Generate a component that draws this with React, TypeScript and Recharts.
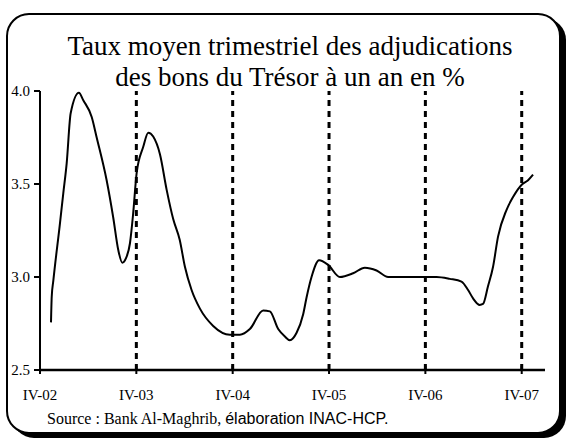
import React from "react";
import { LineChart, Line, XAxis, YAxis, ReferenceLine } from "recharts";

// months since IV-02 quarter (0 = IV-02, 12 = IV-03, ...)
const months = [
  1.37, 1.46, 1.66, 2.49, 2.9, 3.32, 3.82, 4.85, 5.39, 6.44, 7.06, 8.3, 9.12, 9.75,
  10.25, 10.7, 11.2, 11.6, 12.04, 12.86, 13.48, 14.1, 14.94, 15.77, 16.6, 17.4, 18.05,
  18.88, 19.92, 21.57, 23.65, 24.9, 26.14, 27.8, 28.63, 29.67, 30.5, 31.12, 31.96,
  32.78, 33.2, 33.82, 34.77, 35.89, 37.35, 39.0, 40.46, 41.92, 43.36, 46.0, 49.4,
  51.04, 52.5, 53.32, 53.94, 54.77, 55.18, 55.8, 56.43, 57.05, 58.1, 58.92, 59.97,
  60.79, 61.41,
];
const rates = [
  2.756, 2.894, 2.98, 3.29, 3.45, 3.61, 3.88, 3.99, 3.95, 3.86, 3.75, 3.52, 3.32, 3.145,
  3.077, 3.1, 3.18, 3.34, 3.56, 3.7, 3.776, 3.755, 3.66, 3.47, 3.31, 3.2, 3.055,
  2.93, 2.83, 2.737, 2.69, 2.69, 2.72, 2.82, 2.815, 2.72, 2.68, 2.66, 2.7,
  2.8, 2.89, 3.0, 3.09, 3.065, 3.0, 3.02, 3.05, 3.035, 3.0, 3.0, 3.0,
  2.99, 2.975, 2.93, 2.885, 2.85, 2.855, 2.95, 3.055, 3.217, 3.36, 3.43, 3.495,
  3.52, 3.55,
];

const xTicks = [0, 12, 24, 36, 48, 60];
const xTickLabels = ["IV-02", "IV-03", "IV-04", "IV-05", "IV-06", "IV-07"];
const yTicks = [2.5, 3.0, 3.5, 4.0];
const dashedAt = [12, 24, 36, 48, 60];

const titleLines = [
  "Taux moyen trimestriel des adjudications",
  "des bons du Trésor à un an en %",
];
const sourcePart1 = "Source : Bank Al-Maghrib, ";
const sourcePart2 = "élaboration INAC-HCP.";

const data = months.map((m, i) => ({ m, v: rates[i] }));

const serif = "Liberation Serif, DejaVu Serif, serif";
const sans = "Liberation Sans, DejaVu Sans, sans-serif";

const XTick = (props: any) => {
  const { x, y, payload } = props;
  const idx = xTicks.indexOf(payload.value);
  return (
    <g>
      <line x1={x} x2={x} y1={y - 4} y2={y + 4} stroke="#000" strokeWidth={2} />
      <text x={x} y={y + 30} textAnchor="middle" style={{ fontFamily: serif, fontSize: 15 }} fill="#000">
        {idx >= 0 ? xTickLabels[idx] : ""}
      </text>
    </g>
  );
};

const YTick = (props: any) => {
  const { x, y, payload } = props;
  return (
    <text x={x} y={y + 5} textAnchor="end" style={{ fontFamily: serif, fontSize: 15 }} fill="#000">
      {Number(payload.value).toFixed(1)}
    </text>
  );
};

export default function App() {
  return (
    <div style={{ position: "absolute", left: 0, top: 0, width: 568, height: 439, background: "#fff", fontFamily: serif }}>
      <svg width={568} height={439} style={{ position: "absolute", left: 0, top: 0 }}>
        <rect x={12} y={18} width={554} height={420} rx={22} ry={22} fill="#000" />
        <rect x={7} y={14} width={553} height={419} rx={22} ry={22} fill="#fff" stroke="#000" strokeWidth={2} />
        <text x={290} y={55} textAnchor="middle" style={{ fontFamily: serif, fontSize: 27 }} fill="#000">
          {titleLines[0]}
        </text>
        <text x={290} y={86} textAnchor="middle" style={{ fontFamily: serif, fontSize: 27 }} fill="#000">
          {titleLines[1]}
        </text>
        <text x={47} y={424} style={{ fontSize: 16 }} fill="#000">
          <tspan style={{ fontFamily: serif }}>{sourcePart1}</tspan>
          <tspan style={{ fontFamily: sans }}>{sourcePart2}</tspan>
        </text>
      </svg>
      <div style={{ position: "absolute", left: 0, top: 0 }}>
        <LineChart
          width={568}
          height={439}
          data={data}
          margin={{ top: 91, right: 23, bottom: 39, left: 0 }}
        >
          <XAxis
            type="number"
            dataKey="m"
            domain={[0, 62.9]}
            ticks={xTicks}
            allowDataOverflow
            height={30}
            tickSize={0}
            tickMargin={0}
            tick={<XTick />}
            axisLine={{ stroke: "#000", strokeWidth: 2.5 }}
            tickLine={false}
            interval={0}
          />
          <YAxis
            type="number"
            domain={[2.5, 4]}
            ticks={yTicks}
            allowDataOverflow
            width={40}
            tickSize={6}
            tickMargin={4}
            tick={<YTick />}
            axisLine={{ stroke: "#000", strokeWidth: 2 }}
            tickLine={{ stroke: "#000", strokeWidth: 2 }}
            interval={0}
          />
          {dashedAt.map((d) => (
            <ReferenceLine key={d} x={d} stroke="#000" strokeWidth={3} strokeDasharray="6 5" />
          ))}
          <Line
            type="monotone"
            dataKey="v"
            stroke="#000"
            strokeWidth={2}
            dot={false}
            isAnimationActive={false}
          />
        </LineChart>
      </div>
    </div>
  );
}
